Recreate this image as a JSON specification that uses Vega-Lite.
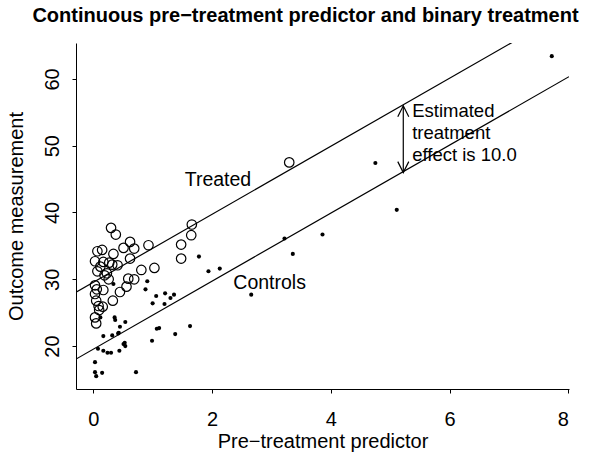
{
  "$schema": "https://vega.github.io/schema/vega-lite/v6.json",
  "width": 493,
  "height": 346,
  "autosize": {"type": "none"},
  "padding": {"left": 76, "top": 43, "right": 23, "bottom": 71},
  "background": "white",
  "title": {"text": "Continuous pre−treatment predictor and binary treatment", "fontSize": 20, "fontWeight": "bold", "font": "Liberation Sans", "color": "black", "offset": 17, "dx": -17, "anchor": "middle"},
  "config": {
    "font": "Liberation Sans",
    "view": {"stroke": null},
    "axis": {"grid": false, "domainColor": "black", "tickColor": "black", "labelColor": "black", "titleColor": "black", "labelFontSize": 20, "titleFontSize": 20, "titleFontWeight": "normal", "tickSize": 4, "domainWidth": 1, "tickWidth": 1}
  },
  "datasets": {
    "treated": [
      {"x": 0.30, "y": 37.7}, {"x": 0.38, "y": 36.7}, {"x": 0.62, "y": 35.6}, {"x": 0.93, "y": 35.1},
      {"x": 0.51, "y": 34.7}, {"x": 0.69, "y": 34.6}, {"x": 0.15, "y": 34.4}, {"x": 0.07, "y": 34.2},
      {"x": 0.34, "y": 33.8}, {"x": 0.62, "y": 33.1}, {"x": 0.03, "y": 32.7}, {"x": 0.17, "y": 32.6},
      {"x": 0.27, "y": 32.5}, {"x": 0.41, "y": 32.1}, {"x": 0.81, "y": 31.4}, {"x": 1.03, "y": 31.7},
      {"x": 0.07, "y": 31.2}, {"x": 0.23, "y": 30.9}, {"x": 0.59, "y": 30.1}, {"x": 0.69, "y": 30.0},
      {"x": 0.56, "y": 28.9}, {"x": 0.26, "y": 30.0}, {"x": 0.03, "y": 29.1}, {"x": 0.06, "y": 28.5},
      {"x": 0.03, "y": 27.8}, {"x": 0.17, "y": 28.4}, {"x": 0.05, "y": 26.8}, {"x": 0.09, "y": 26.0},
      {"x": 0.16, "y": 25.9}, {"x": 0.33, "y": 26.8}, {"x": 0.03, "y": 24.3}, {"x": 0.05, "y": 23.4},
      {"x": 1.66, "y": 38.2}, {"x": 1.65, "y": 36.6}, {"x": 1.48, "y": 35.2}, {"x": 1.48, "y": 33.1},
      {"x": 3.30, "y": 47.5}, {"x": 0.12, "y": 31.9}, {"x": 0.45, "y": 28.1}, {"x": 0.32, "y": 32.2},
      {"x": 0.19, "y": 30.6}, {"x": 0.10, "y": 25.4}
    ],
    "controls": [
      {"x": 0.03, "y": 17.6}, {"x": 0.03, "y": 16.1}, {"x": 0.05, "y": 15.5}, {"x": 0.15, "y": 16.0},
      {"x": 0.72, "y": 16.1}, {"x": 0.08, "y": 19.6}, {"x": 0.17, "y": 19.3}, {"x": 0.24, "y": 19.0},
      {"x": 0.30, "y": 19.0}, {"x": 0.44, "y": 19.3}, {"x": 0.17, "y": 21.5}, {"x": 0.32, "y": 21.6},
      {"x": 0.42, "y": 21.9}, {"x": 0.51, "y": 20.3}, {"x": 0.54, "y": 20.0}, {"x": 0.53, "y": 20.5},
      {"x": 0.12, "y": 24.3}, {"x": 0.36, "y": 24.3}, {"x": 0.37, "y": 23.9}, {"x": 0.54, "y": 23.6},
      {"x": 0.45, "y": 22.9}, {"x": 0.43, "y": 22.0}, {"x": 0.34, "y": 29.3}, {"x": 0.91, "y": 29.7},
      {"x": 0.88, "y": 28.5}, {"x": 1.06, "y": 27.5}, {"x": 1.21, "y": 27.9}, {"x": 1.30, "y": 27.2},
      {"x": 1.36, "y": 27.7}, {"x": 1.00, "y": 26.4}, {"x": 1.20, "y": 26.3}, {"x": 1.07, "y": 22.6},
      {"x": 1.11, "y": 22.7}, {"x": 1.38, "y": 21.8}, {"x": 1.63, "y": 23.0}, {"x": 0.99, "y": 20.8},
      {"x": 1.78, "y": 33.4}, {"x": 1.94, "y": 31.2}, {"x": 2.13, "y": 31.6}, {"x": 3.22, "y": 36.1},
      {"x": 3.36, "y": 33.8}, {"x": 3.86, "y": 36.7}, {"x": 2.66, "y": 27.7}, {"x": 4.75, "y": 47.4},
      {"x": 5.11, "y": 40.4}, {"x": 7.72, "y": 63.4}
    ],
    "fits": [
      {"line": "Controls", "x": -0.29, "y": 18.06}, {"line": "Controls", "x": 8.01, "y": 60.33},
      {"line": "Treated", "x": -0.29, "y": 28.06}, {"line": "Treated", "x": 8.01, "y": 70.33}
    ],
    "arrow": [
      {"x": 5.22, "y": 45.97, "y2": 55.97}
    ],
    "labels": [
      {"x": 2.10, "y": 43.9, "label": "Treated"},
      {"x": 2.97, "y": 28.5, "label": "Controls"}
    ],
    "effect": [
      {"x": 5.37, "y": 54.33, "label": "Estimated\ntreatment\neffect is 10.0"}
    ]
  },
  "layer": [
    {
      "data": {"name": "fits"},
      "mark": {"type": "line", "color": "black", "strokeWidth": 1.2, "clip": true},
      "encoding": {
        "x": {"field": "x", "type": "quantitative", "scale": {"domain": [-0.29, 8.01], "nice": false, "zero": false},
              "axis": {"values": [0, 2, 4, 6, 8], "format": "d", "title": "Pre−treatment predictor", "labelPadding": 16, "titlePadding": 2, "labelAngle": 0}},
        "y": {"field": "y", "type": "quantitative", "scale": {"domain": [13.58, 65.37], "nice": false, "zero": false},
              "axis": {"values": [20, 30, 40, 50, 60], "format": "d", "title": "Outcome measurement", "labelAngle": -90, "labelAlign": "center", "labelBaseline": "bottom", "labelPadding": 10, "titlePadding": 16}},
        "detail": {"field": "line"}
      }
    },
    {
      "data": {"name": "treated"},
      "mark": {"type": "point", "shape": "circle", "filled": false, "stroke": "black", "strokeWidth": 1.2, "size": 90, "opacity": 1},
      "encoding": {"x": {"field": "x", "type": "quantitative"}, "y": {"field": "y", "type": "quantitative"}}
    },
    {
      "data": {"name": "controls"},
      "mark": {"type": "circle", "color": "black", "size": 17, "opacity": 1},
      "encoding": {"x": {"field": "x", "type": "quantitative"}, "y": {"field": "y", "type": "quantitative"}}
    },
    {
      "data": {"name": "arrow"},
      "mark": {"type": "rule", "color": "black", "strokeWidth": 1.2},
      "encoding": {"x": {"field": "x", "type": "quantitative"}, "y": {"field": "y", "type": "quantitative"}, "y2": {"field": "y2"}}
    },
    {
      "data": {"name": "arrow"},
      "mark": {"type": "point", "shape": "M-1,2L0,0L1,2", "filled": false, "stroke": "black", "strokeWidth": 1.2, "size": 121, "opacity": 1},
      "encoding": {"x": {"field": "x", "type": "quantitative"}, "y": {"field": "y2", "type": "quantitative"}}
    },
    {
      "data": {"name": "arrow"},
      "mark": {"type": "point", "shape": "M-1,-2L0,0L1,-2", "filled": false, "stroke": "black", "strokeWidth": 1.2, "size": 121, "opacity": 1},
      "encoding": {"x": {"field": "x", "type": "quantitative"}, "y": {"field": "y", "type": "quantitative"}}
    },
    {
      "data": {"name": "labels"},
      "mark": {"type": "text", "fontSize": 19.5, "align": "center", "baseline": "alphabetic", "color": "black"},
      "encoding": {"x": {"field": "x", "type": "quantitative"}, "y": {"field": "y", "type": "quantitative"}, "text": {"field": "label"}}
    },
    {
      "data": {"name": "effect"},
      "mark": {"type": "text", "fontSize": 18.5, "align": "left", "baseline": "alphabetic", "lineBreak": "\n", "lineHeight": 22, "color": "black"},
      "encoding": {"x": {"field": "x", "type": "quantitative"}, "y": {"field": "y", "type": "quantitative"}, "text": {"field": "label"}}
    }
  ]
}
